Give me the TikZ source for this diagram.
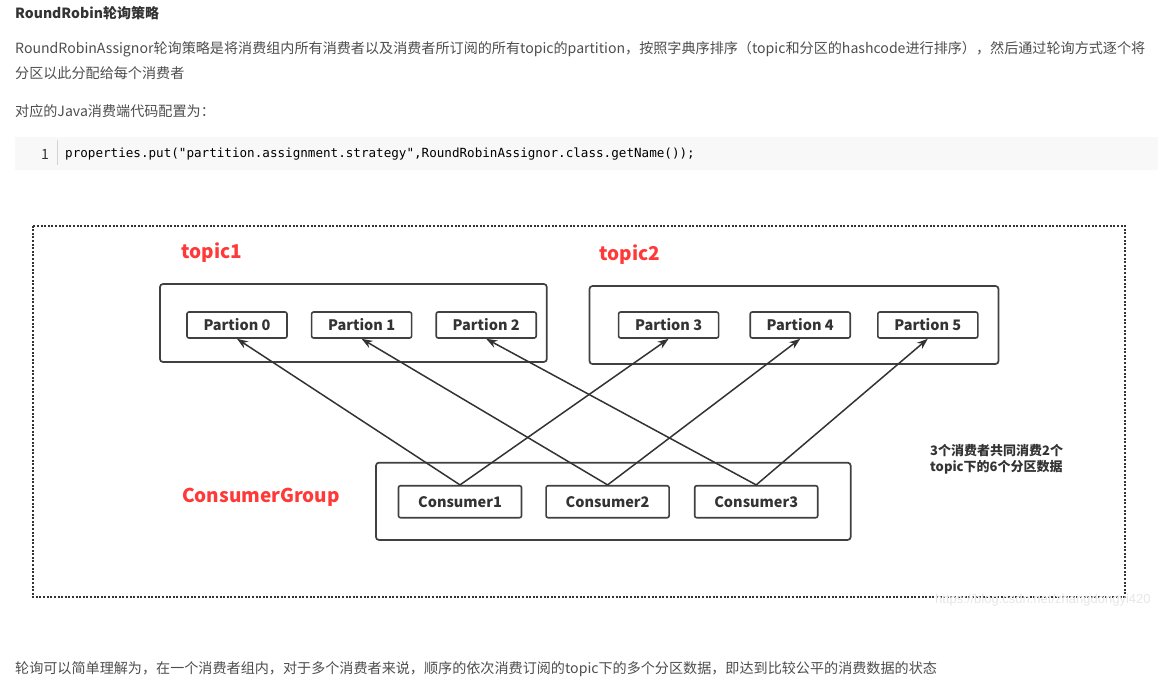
\documentclass[tikz,border=0pt]{standalone}
\usepackage{fontspec}
\setmainfont{Noto Sans CJK SC}
\newfontfamily\codefont{DejaVu Sans Mono}
\newfontfamily\markfont{Liberation Sans}
\usetikzlibrary{positioning,arrows.meta}

\definecolor{txtgray}{HTML}{4D4D4D}
\definecolor{darkgray}{HTML}{333333}
\definecolor{codebg}{HTML}{F8F8F8}
\definecolor{boxgray}{HTML}{404040}
\definecolor{topicred}{HTML}{FF3838}
\definecolor{markgray}{HTML}{E6E6E6}

\begin{document}
\begin{tikzpicture}[%
    x=1pt, y=-1pt,                       % pixel coordinates, top-down
    >={Stealth[length=11pt,width=8pt]},  % filled arrow heads
    node distance=23pt,                  % gap between boxes in a row
    ]
% -------------------------------------------------
% Styles for the page text and the boxes
\tikzset{
  txt/.style={anchor=west, inner sep=0pt, text=txtgray, font=\fontsize{14.1}{16}\selectfont},
  head/.style={txt, text=darkgray, font=\fontsize{14}{16}\selectfont\bfseries},
  part/.style={draw=boxgray, line width=1.6pt, rounded corners=2pt, inner sep=0pt,
    minimum width=100pt, minimum height=26pt, text=darkgray,
    font=\fontsize{14.5}{16}\selectfont\bfseries},
  cons/.style={part, minimum width=123pt, minimum height=32pt},
  group/.style={draw=boxgray, line width=1.7pt, rounded corners=3pt, inner sep=0pt},
  topictxt/.style={inner sep=0pt, text=topicred, font=\fontsize{19}{22}\selectfont\bfseries},
  feed/.style={->, draw=darkgray, line width=1.5pt},
  frame/.style={draw=darkgray, line width=2pt, dash pattern=on 2pt off 1.6pt}
}
\useasboundingbox (0,0) rectangle (1164,681);
% -------------------------------------------------
% Page text above the picture
\node [head] (title) at (15,13) {RoundRobin轮询策略};
\node [txt] (line1) at (15,49) {RoundRobinAssignor轮询策略是将消费组内所有消费者以及消费者所订阅的所有topic的partition，按照字典序排序（topic和分区的hashcode进行排序），然后通过轮询方式逐个将};
\node [txt] (line2) at (15,73) {分区以此分配给每个消费者};
\node [txt] (line3) at (15,111) {对应的Java消费端代码配置为：};

% Code block
\fill [codebg] (14.5,137) rectangle (1158,169.5);
\node [txt, anchor=center, text=darkgray] (num) at (45,154) {1};
\draw [markgray!80!gray, line width=1pt] (57,140) -- (57,165);
\node [txt, text=black, font=\codefont\fontsize{12.6}{15}\selectfont] (code) at (65,154)
  {properties.put("partition.assignment.strategy",RoundRobinAssignor.class.getName());};

% -------------------------------------------------
% The picture: outer dotted frame
\draw [frame] (32.5,225.5) rectangle (1124.5,596.5);

% Topic and group boxes
\node [group, minimum width=386.8pt, minimum height=78pt] (topic1) at (353.4,323) {};
\node [group, minimum width=409pt, minimum height=78pt] (topic2) at (794,325) {};
\node [group, minimum width=474.7pt, minimum height=77.3pt] (group) at (613.3,501.3) {};

\node [topictxt] (t1) at (212,253) {topic1};
\node [topictxt] (t2) at (630,255) {topic2};
\node [topictxt] (cg) at (261,497) {ConsumerGroup};

% Partitions
\node [part] (p0) at (237,325) {Partion 0};
\node [part, right = of p0] (p1) {Partion 1};
\node [part, right = of p1] (p2) {Partion 2};
\node [part] (p3) at (668.6,325) {Partion 3};
\node [part, right = of p3, xshift=7pt] (p4) {Partion 4};
\node [part, right = of p4, xshift=3pt] (p5) {Partion 5};

% Consumers
\node [cons] (c1) at (460,501.7) {Consumer1};
\node [cons, right = of c1] (c2) {Consumer2};
\node [cons, right = of c2, xshift=1pt] (c3) {Consumer3};

% Note on the right
\node [txt, text=darkgray, align=left, font=\fontsize{13}{16}\selectfont\bfseries] (note) at (930,459)
  {3个消费者共同消费2个\\topic下的6个分区数据};

\draw[feed] (c1.north) to (p0.south);   %Consumer1,Partion 0
\draw[feed] (c1.north) to (p3.south);   %Consumer1,Partion 3
\draw[feed] (c2.north) to (p1.south);   %Consumer2,Partion 1
\draw[feed] (c2.north) to (p4.south);   %Consumer2,Partion 4
\draw[feed] (c3.north) to (p2.south);   %Consumer3,Partion 2
\draw[feed] (c3.north) to (p5.south);   %Consumer3,Partion 5

% Watermark and closing line
\node [txt, text=markgray, font=\markfont\fontsize{13}{15}\selectfont] (mark) at (935,600) {https://blog.csdn.net/zhangdongyi420};
\node [txt] (line4) at (15,669) {轮询可以简单理解为，在一个消费者组内，对于多个消费者来说，顺序的依次消费订阅的topic下的多个分区数据，即达到比较公平的消费数据的状态};
% -------------------------------------------------
\end{tikzpicture}
\end{document}
